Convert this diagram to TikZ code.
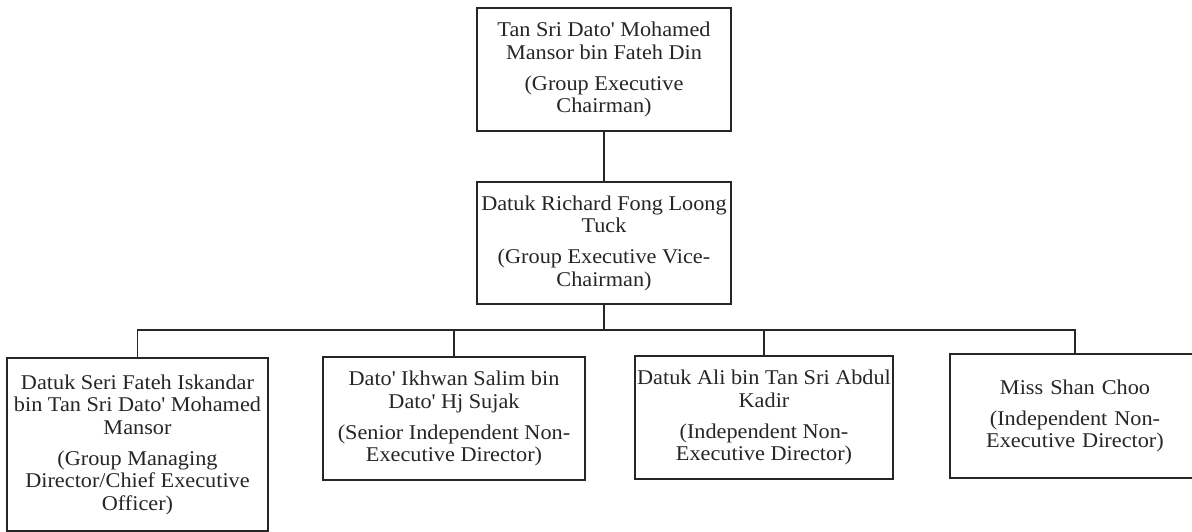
\documentclass[tikz,border=0pt]{standalone}
\usepackage{fontspec}
\setmainfont{Liberation Serif}[FakeStretch=1.06]
\definecolor{ink}{HTML}{262626}
\newcommand{\aps}{\textquotesingle}
\begin{document}
\begin{tikzpicture}[x=1pt,y=-1pt,
  box/.style={draw=ink,line width=1.6pt,rectangle,inner sep=0pt,align=center,
    text=ink,font=\fontsize{21}{22.5}\selectfont},
  link/.style={draw=ink,line width=1.6pt}]
\useasboundingbox[fill=white] (0,0) rectangle (1192,532);
\node[box,minimum width=254pt,minimum height=123pt] (top) at (604,69.5)
  {Tan Sri Dato\aps{} Mohamed\\Mansor bin Fateh Din\\[8.5pt](Group Executive\\Chairman)};
\node[box,minimum width=254pt,minimum height=122pt] (vice) at (604,243)
  {Datuk Richard Fong Loong\\Tuck\\[8.5pt](Group Executive Vice-\\Chairman)};
\node[box,minimum width=261pt,minimum height=173pt] (b1) at (137.5,444.5)
  {Datuk Seri Fateh Iskandar\\bin Tan Sri Dato\aps{} Mohamed\\Mansor\\[8.5pt](Group Managing\\Director/Chief Executive\\Officer)};
\node[box,minimum width=262pt,minimum height=123pt] (b2) at (454,418.5)
  {Dato\aps{} Ikhwan Salim bin\\Dato\aps{} Hj Sujak\\[8.5pt](Senior Independent Non-\\Executive Director)};
\node[box,minimum width=258pt,minimum height=123pt] (b3) at (764,417.5)
  {Datuk Ali bin Tan Sri Abdul\\Kadir\\[8.5pt](Independent Non-\\Executive Director)};
\node[box,minimum width=264pt,minimum height=124pt,text width=250pt] (b4) at (1082,416)
  {\hspace*{-14pt}\parbox{250pt}{\centering Miss Shan Choo\\[8.5pt](Independent Non-\\Executive Director)}};
\coordinate (bus) at (604,330);
\coordinate (b4top) at (1075,354);
\draw[link] (top.south) -- (vice.north);
\draw[link] (vice.south) -- (bus);
\draw[link] (b1.north) |- (bus) -| (b4top);
\draw[link] (b2.north) -- (b2.north |- bus);
\draw[link] (b3.north) -- (b3.north |- bus);
\end{tikzpicture}
\end{document}
